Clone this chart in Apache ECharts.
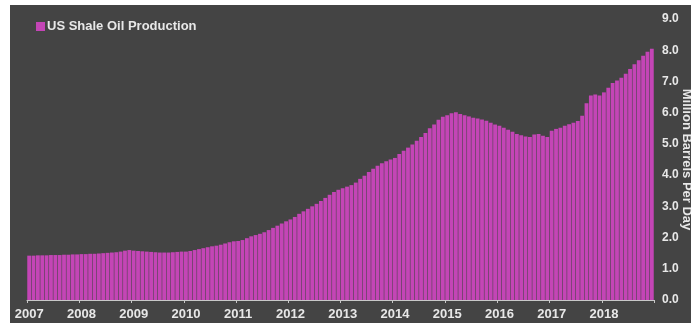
<!DOCTYPE html>
<html>
<head>
<meta charset="utf-8">
<script src="https://cdn.jsdelivr.net/npm/echarts@6/dist/echarts.min.js"></script>
<style>
html,body{margin:0;padding:0;background:#ffffff;}
#chart{width:691px;height:326px;}
</style>
</head>
<body>
<div id="chart"></div>
<script>
const years = ['2007','2008','2009','2010','2011','2012','2013','2014','2015','2016','2017','2018'];
const seriesName = 'US Shale Oil Production';
const axisName = 'Million Barrels Per Day';
const yTicks = {min: 0, max: 9, interval: 1};

const v2007 = [1.42,1.42,1.43,1.43,1.43,1.44,1.44,1.44,1.45,1.45,1.46,1.46];
const v2008 = [1.47,1.47,1.48,1.48,1.49,1.50,1.51,1.52,1.53,1.55,1.58,1.60];
const v2009 = [1.58,1.57,1.56,1.55,1.54,1.53,1.52,1.52,1.52,1.53,1.54,1.55];
const v2010 = [1.55,1.57,1.60,1.63,1.66,1.69,1.72,1.74,1.77,1.81,1.85,1.88];
const v2011 = [1.89,1.92,1.98,2.04,2.08,2.12,2.17,2.24,2.31,2.38,2.45,2.52];
const v2012 = [2.58,2.66,2.76,2.84,2.92,3.00,3.08,3.17,3.27,3.37,3.46,3.53];
const v2013 = [3.58,3.63,3.68,3.76,3.88,3.98,4.10,4.20,4.30,4.38,4.44,4.50];
const v2014 = [4.55,4.68,4.78,4.88,4.98,5.10,5.22,5.35,5.50,5.62,5.77,5.87];
const v2015 = [5.92,5.98,6.01,5.96,5.92,5.88,5.84,5.81,5.78,5.74,5.68,5.62];
const v2016 = [5.58,5.52,5.45,5.39,5.32,5.28,5.24,5.22,5.30,5.32,5.26,5.22];
const v2017 = [5.42,5.48,5.52,5.58,5.63,5.68,5.73,5.90,6.30,6.55,6.58,6.55];
const v2018 = [6.65,6.80,6.95,7.03,7.12,7.25,7.40,7.55,7.68,7.82,7.95,8.05];

const values = [].concat(v2007,v2008,v2009,v2010,v2011,v2012,v2013,v2014,v2015,v2016,v2017,v2018);
const categories = [];
years.forEach(y => { for (let m = 1; m <= 12; m++) categories.push(y + '-' + (m < 10 ? '0' + m : m)); });

const chart = echarts.init(document.getElementById('chart'), null, {renderer: 'canvas'});
const txt = '#e8e8e8';
const ff = 'Liberation Sans, Arial, sans-serif';
chart.setOption({
  backgroundColor: '#ffffff',
  animation: false,
  graphic: [{
    type: 'rect', z: -10, silent: true,
    shape: {x: 10, y: 5, width: 681, height: 318},
    style: {fill: '#444444'}
  }],
  legend: {
    left: 31, top: 15,
    icon: 'rect', itemWidth: 9, itemHeight: 9, itemGap: 4,
    textStyle: {color: txt, fontFamily: ff, fontSize: 13, fontWeight: 'bold', padding: [0,0,0,-3]},
    data: [seriesName]
  },
  grid: {left: 27, right: 37, top: 19, bottom: 26, containLabel: false, outerBoundsMode: 'none'},
  xAxis: {
    type: 'category',
    data: categories,
    boundaryGap: true,
    axisLine: {show: true, lineStyle: {color: '#c8c8c8', width: 1}},
    axisTick: {show: true, length: 3, interval: (i) => i % 12 === 0, lineStyle: {color: '#c8c8c8'}},
    axisLabel: {
      interval: (i) => i % 12 === 0,
      formatter: (v) => v.slice(0, 4),
      color: txt, fontFamily: ff, fontSize: 13, fontWeight: 'bold', margin: 8
    },
    splitLine: {show: false}
  },
  yAxis: {
    type: 'value', position: 'right',
    min: yTicks.min, max: yTicks.max, interval: yTicks.interval,
    axisLine: {show: false}, axisTick: {show: false}, splitLine: {show: false},
    axisLabel: {formatter: (v) => v.toFixed(1), color: txt, fontFamily: ff, fontSize: 12, fontWeight: 'bold', margin: 8},
    name: axisName, nameLocation: 'middle', nameRotate: -90, nameGap: 26, nameMoveOverlap: false,
    nameTextStyle: {color: txt, fontFamily: ff, fontSize: 13, fontWeight: 'bold'}
  },
  series: [{
    name: seriesName,
    type: 'bar',
    data: values,
    barCategoryGap: '12%',
    itemStyle: {color: '#c445b6'}
  }]
});
</script>
</body>
</html>
